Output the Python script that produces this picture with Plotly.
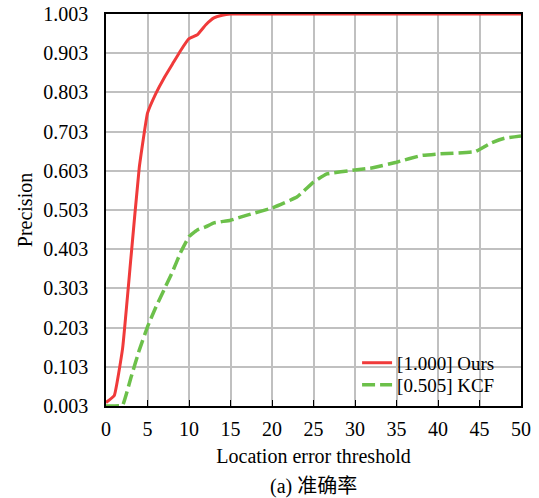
import plotly.graph_objects as go

ours_x = [0, 1, 2, 3, 4, 5, 6, 7, 8, 9, 10, 11, 12, 13, 14, 15, 20, 25, 30, 35, 40, 45, 50]
ours_y = [0.012, 0.03, 0.15, 0.38, 0.61, 0.75, 0.80, 0.84, 0.875, 0.91, 0.94, 0.95, 0.975, 0.993, 1.0, 1.003, 1.003, 1.003, 1.003, 1.003, 1.003, 1.003, 1.003]

kcf_x = [0, 1, 2, 3, 4, 5, 6, 7, 8, 9, 10, 11, 12, 13, 15, 17, 20, 23, 25, 26.6, 30, 32, 35, 38, 40, 44.5, 46.5, 48, 50]
kcf_y = [0.003, 0.003, 0.005, 0.075, 0.145, 0.205, 0.255, 0.30, 0.345, 0.395, 0.435, 0.452, 0.46, 0.47, 0.477, 0.49, 0.508, 0.536, 0.574, 0.595, 0.605, 0.61, 0.625, 0.642, 0.646, 0.652, 0.675, 0.686, 0.692]

y_ticks = [0.003, 0.103, 0.203, 0.303, 0.403, 0.503, 0.603, 0.703, 0.803, 0.903, 1.003]
y_ticktext = ["0.003", "0.103", "0.203", "0.303", "0.403", "0.503", "0.603", "0.703", "0.803", "0.903", "1.003"]
x_ticks = [0, 5, 10, 15, 20, 25, 30, 35, 40, 45, 50]

FONT = "Liberation Serif"
FS = 20

fig = go.Figure()
fig.add_trace(go.Scatter(x=ours_x, y=ours_y, mode="lines", name="[1.000] Ours", legend="legend",
                         line=dict(color="#f03a3a", width=3, shape="spline", smoothing=0.3)))
fig.add_trace(go.Scatter(x=kcf_x, y=kcf_y, mode="lines", name="[0.505] KCF", legend="legend2",
                         line=dict(color="#6cc04a", width=3.5, dash="13px,5px", shape="spline", smoothing=0.3)))

leg_common = dict(x=0.605, xanchor="left", yanchor="middle", bgcolor="rgba(0,0,0,0)", borderwidth=0,
                  font=dict(family=FONT, size=19), itemwidth=30)

fig.update_layout(
    width=539, height=498,
    margin=dict(l=106, r=18, t=14, b=92, autoexpand=False),
    paper_bgcolor="white", plot_bgcolor="white",
    font=dict(family=FONT, size=FS, color="black"),
    showlegend=True,
    legend=dict(y=0.11, **leg_common),
    legend2=dict(y=0.054, **leg_common),
    xaxis=dict(range=[0, 50], tickvals=x_ticks, ticks="inside", ticklen=6, tickcolor="black",
               ticklabelstandoff=4,
               showgrid=True, gridcolor="#c0c0c0", gridwidth=1.5,
               showline=True, linecolor="black", linewidth=1.5, mirror=True,
               zeroline=False,
               title=dict(text="Location error threshold", font=dict(family=FONT, size=FS), standoff=10)),
    yaxis=dict(range=[0.003, 1.003], tickvals=y_ticks, ticktext=y_ticktext,
               ticks="outside", ticklen=12, tickcolor="rgba(0,0,0,0)",
               showgrid=True, gridcolor="#c0c0c0", gridwidth=1.5,
               showline=True, linecolor="black", linewidth=1.5, mirror=True,
               zeroline=False,
               title=dict(text="Precision", font=dict(family=FONT, size=FS), standoff=5)),
)
# white legend background box
fig.add_shape(type="rect", xref="paper", yref="paper", x0=0.595, x1=0.9855, y0=0.023, y1=0.143,
              fillcolor="white", line=dict(width=0), layer="between")
fig.add_annotation(text="(a) 准确率", xref="paper", yref="paper", x=0.5, y=-0.205,
                   xanchor="center", yanchor="middle", showarrow=False,
                   font=dict(family="Liberation Serif, Noto Sans CJK SC", size=FS))

fig.write_html("out.html")
